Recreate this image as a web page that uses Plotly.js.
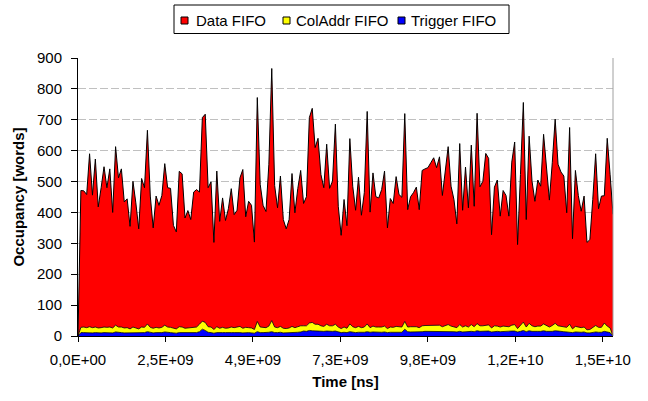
<!DOCTYPE html>
<html>
<head>
<meta charset="utf-8">
<script src="https://cdn.plot.ly/plotly-3.0.1.min.js"></script>
<style>html,body{margin:0;padding:0;background:#fff;}#chart{width:648px;height:401px;}</style>
</head>
<body>
<div id="chart"></div>
<script>
// Series names
const seriesNames = ['Data FIFO', 'ColAddr FIFO', 'Trigger FIFO'];
const seriesColors = ['#ff0000', '#ffff00', '#0000ff'];

// X-axis tick labels (time in ns)
const tickTimes = [0, 2.45e9, 4.9e9, 7.35e9, 9.8e9, 1.225e10, 1.47e10];
const tickLabels = ['0,0E+00', '2,5E+09', '4,9E+09', '7,3E+09', '9,8E+09', '1,2E+10', '1,5E+10'];
const timeEnd = 1.4985e10; // last sample time [ns]

// Trigger FIFO occupancy [words]
const triggerFifo = [
  0, 11,11,10,11,10,11,10,10,11,11,11,10, 13, 11,11,10,10,9,11,10,9,11,11, 14, 11,10,11,10,11, 13,
  11,11,10,9,11,11,10,10,10,11,11, 14, 22, 18, 12,11, 9,
  11,10,11,11,10,11,11,12,11,10,11,11,10,9, 14, 11,11,11,12, 14,
  11,11,12,10,10,11,12,11,12,13, 16,15,18,17,16, 16,15,15,16,15,15,16,
  13,11,12,11,14,12,11,12,11,12, 14,
  12,13,12,12,12,13,11,12,12,13,12,12, 22, 14,13,13,13,12,14,
  15,15,15,16,15,16,14,15,16, 14,14,13,15,13,14,13,15,14,
  17,15,15,16,16,13,15,15,14,15,15,15,16,16,13,15,18,14,17,15,14,15,
  15,17,15,14,15,17,15,15,14,
  13,14,11,13,12,12,13,10,10,12,13,12,12,15,13,11
];

// ColAddr FIFO occupancy [words]
const colAddrFifo = [
  0, 17,18,17,19,17,18,16,17,18,17,18,16, 22, 18,18,16,17,14,18,16,14,18,17, 25, 17,15,17,16,17, 22,
  18,17,15,14,19,18,15,16,15,17,18, 24, 26, 26, 18,18, 12,
  19,15,17,14,16,18,16,18,20,15,17,16,16,12, 33, 18,16,16,20, 36,
  18,16,19,15,14,15,19,16,18,20, 17,18,24,27,22, 22,18,16,22,18,18,22,
  16,13,17,14,25,18,16,19,16,17, 25,
  15,19,17,17,17,19,13,17,16,18,17,17, 25, 15,17,17,17,15,19,
  19,19,19,20,21,19,16,19,21, 18,16,14,22,16,19,16,22,16,
  23,18,18,19,20,13,18,17,15,17,17,15,19,21,11,18,27,15,24,18,16,17,
  17,22,18,15,19,24,18,17,16,
  15,24,12,18,16,15,16,10,11,16,21,16,16,27,19,15
];

// Data FIFO occupancy [words]
const dataFifo = [
  0, 443,441,431,560,429,544,392,453,519,452,512,374,578,483,512,408,417,332,472,
  405,324,481,452,627,425,325,425,397,427,523,451,450,333,314,503,496,357,380,352,
  438,445,428,659,674,450,470,282,504,346,419,349,386,448,366,377,481,514,358,409,
  397,283,725,462,396,376,524,816,458,388,487,352,323,351,495,372,447,503,396,418,
  665,693,572,602,490,449,583,445,468,648,391,302,413,332,600,455,380,483,364,435,
  688,374,496,422,418,445,502,326,416,401,485,429,420,673,380,421,434,452,382,503,
  507,511,527,541,509,545,425,511,576,453,412,336,586,378,514,386,581,390,681,450,
  468,556,539,302,449,473,359,439,423,358,528,591,272,490,711,348,606,468,406,473,
  453,614,503,411,527,661,523,499,488,371,637,292,505,427,377,424,283,291,414,556,
  384,425,412,608,496,394
];

const n = dataFifo.length;
const dt = timeEnd / (n - 1);
const times = dataFifo.map((_, i) => i * dt);

const thinLine = {color: '#000000', width: 0.8, shape: 'linear'};
const topLine = {color: '#000000', width: 1, shape: 'linear'};

const traces = [
  {x: times, y: triggerFifo, type: 'scatter', mode: 'lines', stackgroup: 'one',
   fillcolor: seriesColors[2], line: thinLine, name: seriesNames[2], showlegend: false, hoverinfo: 'skip'},
  {x: times, y: colAddrFifo, type: 'scatter', mode: 'lines', stackgroup: 'one',
   fillcolor: seriesColors[1], line: thinLine, name: seriesNames[1], showlegend: false, hoverinfo: 'skip'},
  {x: times, y: dataFifo, type: 'scatter', mode: 'lines', stackgroup: 'one',
   fillcolor: seriesColors[0], line: topLine, name: seriesNames[0], showlegend: false, hoverinfo: 'skip'}
];

// ---- layout geometry (pixels) ----
const W = 648, H = 401;
const M = {l: 78, r: 35, t: 58, b: 65};
const pw = W - M.l - M.r, ph = H - M.t - M.b;
const px2x = p => (p - M.l) / pw;        // pixel x -> paper x
const px2y = p => (H - M.b - p) / ph;    // pixel y -> paper y

const FONT = 'Arial, "Liberation Sans", sans-serif';

// custom legend (box, swatches, labels)
const legBox = {x0: 174, x1: 509, y0: 5, y1: 33.5};
const swatchX = [181, 283, 398];
const textX = [195, 295, 410];
const legMid = 20.5;

const shapes = [
  {type: 'line', xref: 'paper', yref: 'paper', x0: 1, x1: 1, y0: 0, y1: 1,
   line: {color: '#a0a0a0', width: 1}},
  {type: 'rect', xref: 'paper', yref: 'paper',
   x0: px2x(legBox.x0), x1: px2x(legBox.x1), y0: px2y(legBox.y0), y1: px2y(legBox.y1),
   line: {color: '#000000', width: 1}, fillcolor: '#ffffff'}
];
const annotations = [];
seriesNames.forEach((nm, k) => {
  shapes.push({type: 'rect', xref: 'paper', yref: 'paper',
    x0: px2x(swatchX[k]), x1: px2x(swatchX[k] + 7),
    y0: px2y(legMid - 3.5), y1: px2y(legMid + 3.5),
    line: {color: '#000000', width: 1}, fillcolor: seriesColors[k]});
  annotations.push({xref: 'paper', yref: 'paper', x: px2x(textX[k]), y: px2y(legMid),
    xanchor: 'left', yanchor: 'middle', showarrow: false, text: nm, borderpad: 0,
    font: {size: 15, family: FONT, color: '#000000'}});
});

const layout = {
  width: W, height: H,
  margin: {l: M.l, r: M.r, t: M.t, b: M.b, pad: 0},
  paper_bgcolor: '#ffffff', plot_bgcolor: '#ffffff',
  font: {family: FONT, size: 15, color: '#000000'},
  showlegend: false,
  xaxis: {
    type: 'linear', range: [0, timeEnd],
    tickmode: 'array', tickvals: tickTimes, ticktext: tickLabels,
    showline: true, linecolor: '#000000', linewidth: 1,
    ticks: 'outside', ticklen: 5, tickcolor: '#000000',
    showgrid: false, zeroline: false,
    tickfont: {size: 15}, ticklabelstandoff: 5,
    title: {text: '<b>Time [ns]</b>', font: {size: 15}, standoff: 9}
  },
  yaxis: {
    range: [0, 900], dtick: 100, tick0: 0,
    showline: true, linecolor: '#000000', linewidth: 1,
    ticks: 'outside', ticklen: 6, tickcolor: '#000000',
    showgrid: true, gridcolor: '#c0c0c0', griddash: '8px,3px', gridwidth: 1,
    zeroline: false,
    tickfont: {size: 15}, ticklabelstandoff: 6,
    title: {text: '<b>Occupancy [words]</b>', font: {size: 15}, standoff: 8}
  },
  shapes: shapes,
  annotations: annotations
};

Plotly.newPlot('chart', traces, layout, {displayModeBar: false, staticPlot: true});
</script>
</body>
</html>
